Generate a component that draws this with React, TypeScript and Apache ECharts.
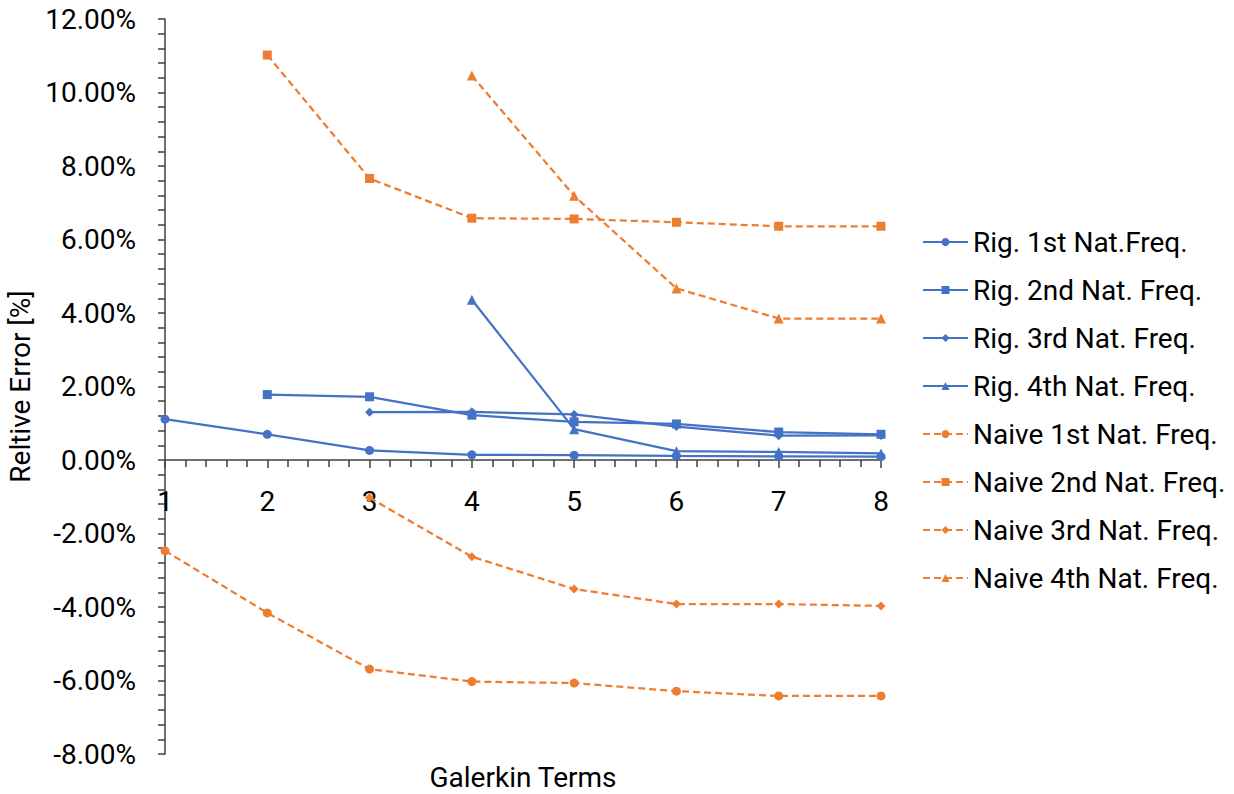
import React, { useEffect, useRef } from "react";
import * as echarts from "echarts";

const terms = [1, 2, 3, 4, 5, 6, 7, 8];
const rig1 = [1.11, 0.7, 0.26, 0.14, 0.13, 0.11, 0.1, 0.09];
const rig2 = [null, 1.78, 1.72, 1.22, 1.04, 0.98, 0.76, 0.7];
const rig3 = [null, null, 1.3, 1.31, 1.24, 0.91, 0.66, 0.67];
const rig4 = [null, null, null, 4.36, 0.84, 0.24, 0.22, 0.18];
const naive1 = [-2.47, -4.16, -5.69, -6.03, -6.07, -6.29, -6.42, -6.42];
const naive2 = [null, 11.02, 7.66, 6.58, 6.56, 6.47, 6.36, 6.36];
const naive3 = [null, null, -1.03, -2.63, -3.51, -3.92, -3.92, -3.97];
const naive4 = [null, null, null, 10.46, 7.19, 4.67, 3.85, 3.85];

const seriesNames = [
  "Rig. 1st Nat.Freq.",
  "Rig. 2nd Nat. Freq.",
  "Rig. 3rd Nat. Freq.",
  "Rig. 4th Nat. Freq.",
  "Naive 1st Nat. Freq.",
  "Naive 2nd Nat. Freq.",
  "Naive 3rd Nat. Freq.",
  "Naive 4th Nat. Freq.",
];
const seriesValues = [rig1, rig2, rig3, rig4, naive1, naive2, naive3, naive4];
const symbols = ["circle", "rect", "diamond", "triangle", "circle", "rect", "diamond", "triangle"];
const symbolSizes = [9, 9, 9, 10, 9, 9, 9, 10];

const BLUE = "#4472C4";
const ORANGE = "#ED7D31";
const FONT = "Roboto";

const GRID_TOP = 19;
const GRID_BOTTOM = 40;
const CHART_H = 794;
const Y_MIN = -8;
const Y_MAX = 12;

export default function App() {
  const ref = useRef<HTMLDivElement>(null);
  useEffect(() => {
    if (!ref.current) return;
    const chart = echarts.init(ref.current, null, { renderer: "svg" });
    const gridH = CHART_H - GRID_TOP - GRID_BOTTOM;
    const zeroFromBottom = (gridH * (0 - Y_MIN)) / (Y_MAX - Y_MIN);
    const series = seriesNames.map((name, si) => {
      const naive = si >= 4;
      const color = naive ? ORANGE : BLUE;
      const data = terms
        .map((t, i) => [t, seriesValues[si][i]])
        .filter((p) => p[1] !== null && p[1] !== undefined);
      return {
        name,
        type: "line",
        data,
        symbol: symbols[si],
        symbolSize: symbolSizes[si],
        showAllSymbol: true,
        itemStyle: { color },
        lineStyle: {
          color,
          width: 2.25,
          type: naive ? [7, 4] : "solid",
        },
        emphasis: { disabled: true },
      };
    });
    chart.setOption({
      animation: false,
      backgroundColor: "#ffffff",
      textStyle: { fontFamily: FONT },
      grid: { left: 165, right: 353, top: GRID_TOP, bottom: GRID_BOTTOM, containLabel: false, outerBoundsMode: "none" },
      legend: {
        orient: "vertical",
        left: 917,
        top: 223,
        itemWidth: 45,
        itemHeight: 10,
        itemGap: 20,
        textStyle: { fontFamily: FONT, fontSize: 28, color: "#000", lineHeight: 28 },
        data: seriesNames,
      },
      xAxis: {
        type: "value",
        min: 1,
        max: 8,
        interval: 1,
        offset: -zeroFromBottom,
        name: "Galerkin Terms",
        nameLocation: "middle",
        nameGap: 303,
        nameTextStyle: { fontFamily: FONT, fontSize: 28, color: "#000" },
        axisLine: { onZero: false, lineStyle: { color: "#404040", width: 1.5 } },
        axisTick: { show: true, inside: false, length: 8, lineStyle: { color: "#404040", width: 1.5 } },
        minorTick: { show: true, splitNumber: 5, length: 7, lineStyle: { color: "#404040", width: 1.5 } },
        splitLine: { show: false },
        minorSplitLine: { show: false },
        axisLabel: {
          fontFamily: FONT,
          fontSize: 28,
          color: "#000",
          margin: 27,
          formatter: (v: number) => String(v),
        },
      },
      yAxis: {
        type: "value",
        min: Y_MIN,
        max: Y_MAX,
        interval: 2,
        name: "Reltive Error [%]",
        nameLocation: "middle",
        nameGap: 130,
        nameTextStyle: { fontFamily: FONT, fontSize: 28, color: "#000" },
        axisLine: { show: true, onZero: false, lineStyle: { color: "#404040", width: 1.5 } },
        axisTick: { show: true, inside: false, length: 7, lineStyle: { color: "#404040", width: 1.5 } },
        minorTick: { show: true, splitNumber: 5, length: 7, lineStyle: { color: "#404040", width: 1.5 } },
        splitLine: { show: false },
        minorSplitLine: { show: false },
        axisLabel: {
          fontFamily: FONT,
          fontSize: 28,
          color: "#000",
          margin: 29,
          formatter: (v: number) => v.toFixed(2) + "%",
        },
      },
      series,
    });
    return () => chart.dispose();
  }, []);
  return (
    <div
      ref={ref}
      style={{ position: "fixed", left: 0, top: 0, width: 1234, height: 794, background: "#fff" }}
    />
  );
}
